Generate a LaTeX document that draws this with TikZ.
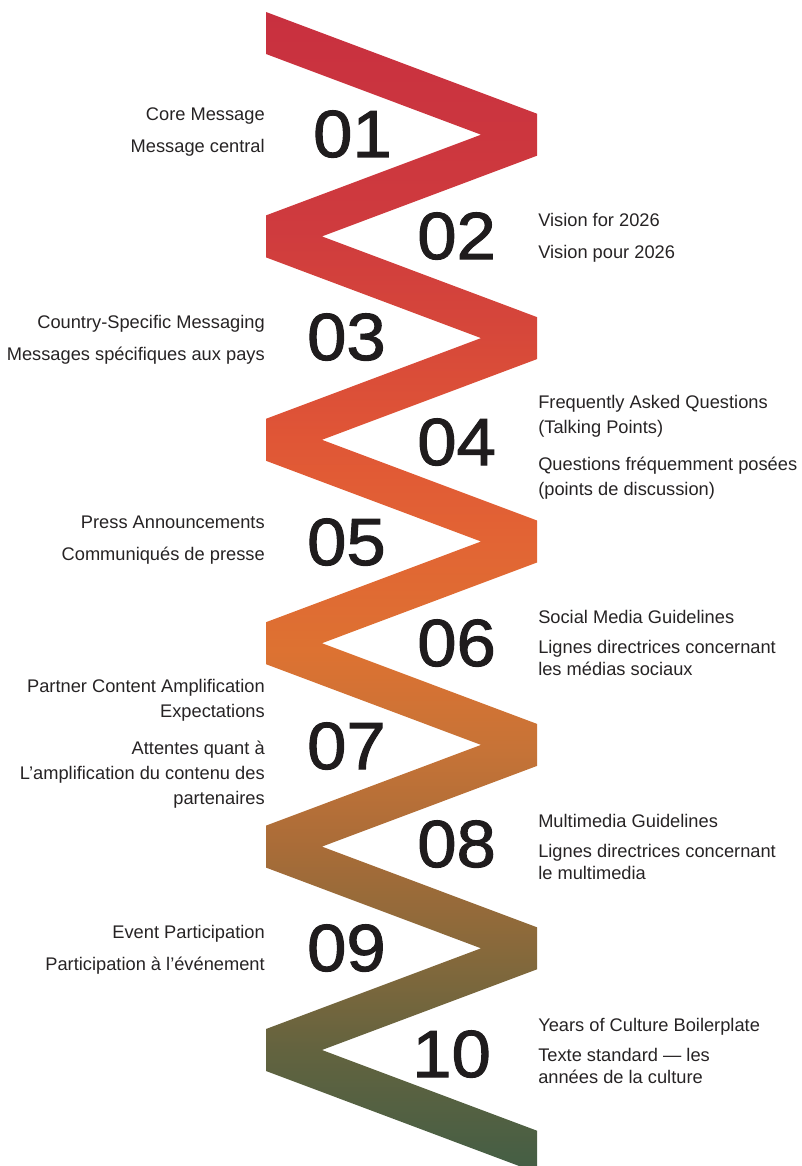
\documentclass[tikz,border=0pt]{standalone}
\usepackage{fontspec}
\setmainfont{Liberation Sans}
\newfontfamily\numfont[FakeStretch=1.06, FakeBold=1.5]{Liberation Sans}

\definecolor{textgray}{HTML}{262324}
\definecolor{numblack}{HTML}{1F1C1D}
\definecolor{ribA}{HTML}{C8303F}
\definecolor{ribB}{HTML}{CF3B3E}
\definecolor{ribC}{HTML}{D6473A}
\definecolor{ribD}{HTML}{E05636}
\definecolor{ribE}{HTML}{E26434}
\definecolor{ribF}{HTML}{DD7232}
\definecolor{ribG}{HTML}{C67337}
\definecolor{ribH}{HTML}{A86C38}
\definecolor{ribI}{HTML}{87693B}
\definecolor{ribJ}{HTML}{63633F}
\definecolor{ribK}{HTML}{435E45}

% ribbon runs from crimson at the top to green at the bottom
\pgfdeclareverticalshading{ribbon}{100bp}{color(0bp)=(ribK); color(25bp)=(ribK);
  color(30.3bp)=(ribJ); color(34.6bp)=(ribI); color(38.9bp)=(ribH);
  color(43.2bp)=(ribG); color(47.5bp)=(ribF); color(52.3bp)=(ribE);
  color(56.6bp)=(ribD); color(61.3bp)=(ribC); color(65.6bp)=(ribB);
  color(75bp)=(ribA); color(100bp)=(ribA)}

\tikzstyle{num} = [font=\numfont\fontsize{50}{50}\selectfont, text=numblack, inner sep=0pt]
\tikzstyle{lefttxt} = [font=\fontsize{13.7}{18.75}\selectfont, text=textgray, align=right, anchor=base east, inner sep=0pt]
\tikzstyle{righttxt} = [font=\fontsize{13.7}{18.75}\selectfont, text=textgray, align=left, anchor=base west, inner sep=0pt]
\tikzstyle{tight} = [font=\fontsize{13.7}{16.5}\selectfont]

\begin{document}
\begin{tikzpicture}[x=0.75pt, y=-0.75pt]
    \useasboundingbox (0,0) rectangle (801,1166);

    % zigzag ribbon, one slanted band per step
    \begin{scope}
    \clip (0,0) rectangle (801,1166);
    \shade[shading=ribbon]
      \foreach \k [evaluate=\k as \yl using {33+(\k+mod(\k,2))*101.7},
                   evaluate=\k as \yr using {33+(\k+1-mod(\k,2))*101.7}] in {0,...,10}
      { (266,\yl-21) -- (537,\yr-21) -- (537,\yr+21) -- (266,\yl+21) -- cycle };
    \end{scope}

    % Place numbers
    \node [num, anchor=base east] (num01) at (392,157) {01};
    \node [num, anchor=base west] (num02) at (417,259) {02};
    \node [num, anchor=base east] (num03) at (386,360) {03};
    \node [num, anchor=base west] (num04) at (417,465) {04};
    \node [num, anchor=base east] (num05) at (386,565) {05};
    \node [num, anchor=base west] (num06) at (417,666) {06};
    \node [num, anchor=base east] (num07) at (386,769) {07};
    \node [num, anchor=base west] (num08) at (417,867) {08};
    \node [num, anchor=base east] (num09) at (386,971) {09};
    \node [num, anchor=base west] (num10) at (412,1077) {10};

    % Place texts (multi-line ones sit on their last line)
    \node [lefttxt] (en01) at (265,121) {Core Message};
    \node [lefttxt] (fr01) at (265,153) {Message central};

    \node [righttxt] (en02) at (538,227) {Vision for 2026};
    \node [righttxt] (fr02) at (538,258) {Vision pour 2026};

    \node [lefttxt] (en03) at (265,328) {Country-Specific Messaging};
    \node [lefttxt] (fr03) at (265,360) {Messages spécifiques aux pays};

    \node [righttxt] (en04) at (538,433) {Frequently Asked Questions\\(Talking Points)};
    \node [righttxt] (fr04) at (538,495) {Questions fréquemment posées\\(points de discussion)};

    \node [lefttxt] (en05) at (265,528) {Press Announcements};
    \node [lefttxt] (fr05) at (265,560) {Communiqués de presse};

    \node [righttxt] (en06) at (538,623) {Social Media Guidelines};
    \node [righttxt, tight] (fr06) at (538,675) {Lignes directrices concernant\\les médias sociaux};

    \node [lefttxt] (en07) at (265,717) {Partner Content Amplification\\Expectations};
    \node [lefttxt] (fr07) at (265,804) {Attentes quant à\\L’amplification du contenu des\\partenaires};

    \node [righttxt] (en08) at (538,827) {Multimedia Guidelines};
    \node [righttxt, tight] (fr08) at (538,879) {Lignes directrices concernant\\le multimedia};

    \node [lefttxt] (en09) at (265,938) {Event Participation};
    \node [lefttxt] (fr09) at (265,970) {Participation à l’événement};

    \node [righttxt] (en10) at (538,1031) {Years of Culture Boilerplate};
    \node [righttxt, tight] (fr10) at (538,1083) {Texte standard — les\\années de la culture};

\end{tikzpicture}
\end{document}
